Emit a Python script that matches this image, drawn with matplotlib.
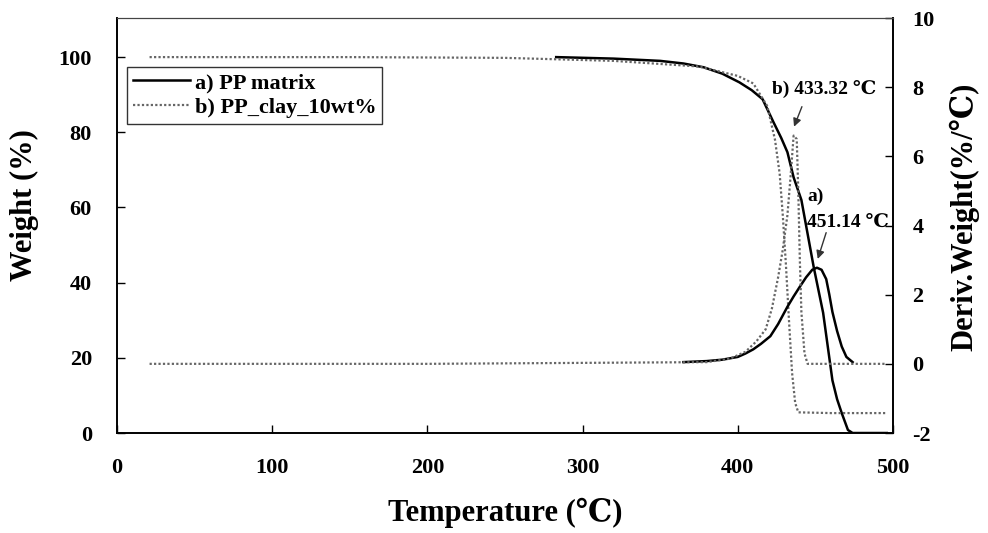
import matplotlib
matplotlib.use("Agg")
import matplotlib.pyplot as plt
from matplotlib.ticker import MultipleLocator

plt.rcParams['font.family'] = ['Liberation Serif', 'DejaVu Serif']
plt.rcParams['font.weight'] = 'bold'
plt.rcParams['axes.unicode_minus'] = False

# a) PP matrix - weight (%)
t_pp_w = [283, 320, 350, 365, 378, 390, 401, 409, 416, 423, 428, 432, 436, 441, 445, 449,
          455, 458, 461, 464, 467, 471, 474, 496]
w_pp = [100, 99.6, 99, 98.3, 97.3, 95.6, 93.3, 91.2, 88.8, 82.7, 78.5, 74.7, 68, 62, 53, 44,
        32, 23, 14, 9, 5.3, 0.8, 0, 0]
# b) PP_clay_10wt% - weight (%)
t_clay_w = [21, 150, 250, 320, 375, 400, 410, 419, 424, 427, 429, 431, 433, 435, 437, 439, 460, 495]
w_clay = [100, 100, 99.8, 99, 97.5, 95, 93, 87, 78, 69, 58, 45, 30, 16, 8, 5.5, 5.3, 5.3]
# a) PP matrix - derivative weight (%/C)
t_pp_d = [365, 380, 390, 400, 405, 410, 415, 421, 426, 432, 436, 440, 444, 448, 451, 454,
          457, 459, 461, 464, 467, 470, 474]
d_pp = [0.05, 0.08, 0.12, 0.2, 0.3, 0.42, 0.58, 0.8, 1.15, 1.65, 1.95, 2.23, 2.5, 2.72, 2.78, 2.72,
        2.45, 2.0, 1.5, 0.95, 0.5, 0.2, 0.05]
# b) PP_clay_10wt% - derivative weight (%/C)
t_clay_d = [21, 200, 380, 395, 405, 412, 418, 422, 426, 429, 432, 434, 436, 438, 439, 440,
            441, 443, 445, 470, 495]
d_clay = [0, 0, 0.05, 0.15, 0.35, 0.65, 1.0, 1.6, 2.5, 3.3, 4.3, 5.4, 6.6, 6.5, 5.0, 3.0,
          1.5, 0.3, 0, 0, 0]

fig = plt.figure(figsize=(9.88, 5.33), dpi=100)
ax = fig.add_axes([0.1184, 0.1876, 0.7854, 0.7786])
ax2 = ax.twinx()

solid = dict(color='black', linewidth=1.8, linestyle='-')
dotted = dict(color='#666666', linewidth=1.6, linestyle=(0, (1, 1)))

l1, = ax.plot(t_pp_w, w_pp, label='a) PP matrix', **solid)
l2, = ax.plot(t_clay_w, w_clay, label='b) PP_clay_10wt%', **dotted)
ax2.plot(t_pp_d, d_pp, **solid)
ax2.plot(t_clay_d, d_clay, **dotted)

ax.set_xlim(0, 500)
ax.set_ylim(0, 110.4)
ax2.set_ylim(-2, 10)
ax.xaxis.set_major_locator(MultipleLocator(100))
ax2.yaxis.set_major_locator(MultipleLocator(2))
ax.set_yticks(range(0, 101, 20))

ax.tick_params(axis='x', direction='in', length=6, width=1, pad=18, labelsize=16)
ax.tick_params(axis='y', direction='in', length=6, width=1, pad=18, labelsize=16)
ax2.tick_params(axis='y', direction='in', length=6, width=1, pad=14, labelsize=16)
for a in (ax, ax2):
    a.spines['top'].set_color('#444444')
    for s in ('left', 'right', 'bottom'):
        a.spines[s].set_linewidth(1.2)

ax.set_xlabel('Temperature (℃)', fontsize=22, fontweight='bold')
ax.set_ylabel('Weight (%)', fontsize=22, fontweight='bold')
ax2.set_ylabel('Deriv.Weight(%/℃)', fontsize=22, fontweight='bold')
ax.xaxis.set_label_coords(0.5, -0.155)
ax.yaxis.set_label_coords(-0.1, 0.55)
ax2.yaxis.set_label_coords(1.073, 0.52)

# annotations
ax.text(455.5, 91.5, 'b) 433.32 ℃', fontsize=14, fontweight='bold', ha='center', va='center')
ax.annotate('', xy=(435.6, 80.8), xytext=(442, 87.5),
            arrowprops=dict(arrowstyle='-|>', color='#333333', lw=1, mutation_scale=12))
ax.text(444.6, 63, 'a)', fontsize=14, fontweight='bold', ha='left', va='center')
ax.text(444.6, 56, '451.14 ℃', fontsize=14, fontweight='bold', ha='left', va='center')
ax.annotate('', xy=(451, 45.6), xytext=(457.5, 54),
            arrowprops=dict(arrowstyle='-|>', color='#333333', lw=1, mutation_scale=12))

leg = ax.legend(handles=[l1, l2], loc='upper left', bbox_to_anchor=(0.013, 0.882),
                fontsize=16, frameon=True, fancybox=False, handlelength=2.6,
                handletextpad=0.2, borderpad=0.25, labelspacing=0.2, borderaxespad=0)
leg.get_frame().set_edgecolor('black')
leg.get_frame().set_linewidth(1)

fig.savefig('out.png', dpi=100)
